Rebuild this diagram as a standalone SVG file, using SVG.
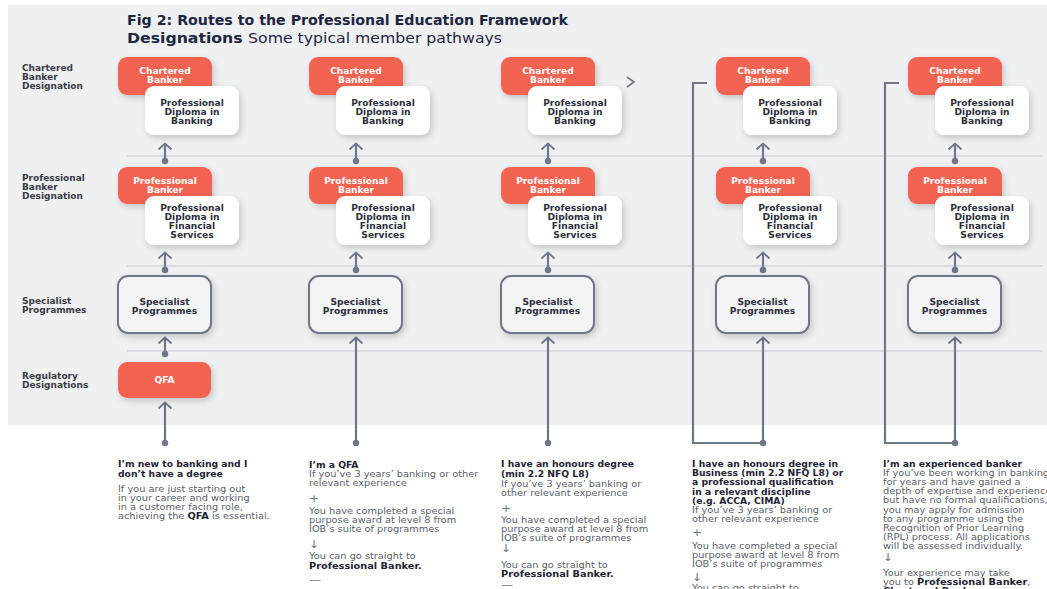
<svg xmlns="http://www.w3.org/2000/svg" width="1047" height="589" viewBox="0 0 1047 589">
<defs>
<filter id="sh" x="-20%" y="-20%" width="150%" height="160%">
<feDropShadow dx="2" dy="3" stdDeviation="3" flood-color="#000" flood-opacity="0.18"/>
</filter>
<marker id="ah" markerWidth="10" markerHeight="16" refX="7" refY="8" orient="auto" markerUnits="userSpaceOnUse" viewBox="0 0 10 16">
<path d="M1.5,1.5 L7.5,8 L1.5,14.5" fill="none" stroke="#6e7787" stroke-width="1.8"/>
</marker>
<marker id="dot" markerWidth="8" markerHeight="8" refX="4" refY="4" markerUnits="userSpaceOnUse" viewBox="0 0 8 8">
<circle cx="4" cy="4" r="3.2" fill="#6e7787"/>
</marker>
</defs>
<style>
text{font-family:"DejaVu Sans","Liberation Sans",sans-serif}
.t1{font-size:14px;font-weight:700;fill:#1d2740}
.t2{font-size:14px;font-weight:400;fill:#1d2740}
.lab{font-size:8.2px;font-weight:700;fill:#3a3d45}
.or{fill:#f26451}
.wh{fill:#ffffff}
.sp{fill:#f3f4f6;stroke:#6e7787;stroke-width:2}
.ot{font-size:8.3px;font-weight:700;fill:#ffffff;text-anchor:middle}
.wt{font-size:8.3px;font-weight:700;fill:#2b2f3a;text-anchor:middle}
.div{stroke:#d3d6dc;stroke-width:1.5}
.con{fill:none;stroke:#6e7787;stroke-width:2.2}
.h{font-size:8.4px;font-weight:700;fill:#1f2433}
.b{font-size:8.9px;font-weight:400;fill:#5a5f6a}
.bb{font-weight:700;fill:#1f2433}
.sym{font-size:11px;font-weight:400;fill:#6e7787}
</style>
<rect x="8" y="5" width="1039" height="420" fill="#eff0f2"/>
<g id="title">
<text x="127" y="25" class="t1" textLength="441" lengthAdjust="spacingAndGlyphs">Fig 2: Routes to the Professional Education Framework</text>
<text x="127" y="43" class="t1" textLength="375" lengthAdjust="spacingAndGlyphs">Designations <tspan class="t2">Some typical member pathways</tspan></text>
</g>
<g id="row-labels" transform="matrix(1.1 0 0 1 -2.2 0)">
<text class="lab"><tspan x="22" y="71">Chartered</tspan><tspan x="22" y="80">Banker</tspan><tspan x="22" y="89">Designation</tspan></text>
<text class="lab"><tspan x="22" y="181">Professional</tspan><tspan x="22" y="190">Banker</tspan><tspan x="22" y="199">Designation</tspan></text>
<text class="lab"><tspan x="22" y="304">Specialist</tspan><tspan x="22" y="313">Programmes</tspan></text>
<text class="lab"><tspan x="22" y="379">Regulatory</tspan><tspan x="22" y="388">Designations</tspan></text>
</g>
<g id="dividers">
<line class="div" x1="127" y1="156" x2="1043" y2="156"/>
<line class="div" x1="127" y1="266" x2="1043" y2="266"/>
<line class="div" x1="127" y1="351" x2="1043" y2="351"/>
</g>
<g id="connectors">
<path class="con" d="M165,161 V144" marker-start="url(#dot)" marker-end="url(#ah)"/>
<path class="con" d="M165,270 V253" marker-start="url(#dot)" marker-end="url(#ah)"/>
<path class="con" d="M165,354 V338" marker-start="url(#dot)" marker-end="url(#ah)"/>
<path class="con" d="M165,443 V403" marker-start="url(#dot)" marker-end="url(#ah)"/>
<path class="con" d="M356,161 V144" marker-start="url(#dot)" marker-end="url(#ah)"/>
<path class="con" d="M356,270 V253" marker-start="url(#dot)" marker-end="url(#ah)"/>
<path class="con" d="M356,443 V338" marker-start="url(#dot)" marker-end="url(#ah)"/>
<path class="con" d="M548,161 V144" marker-start="url(#dot)" marker-end="url(#ah)"/>
<path class="con" d="M548,270 V253" marker-start="url(#dot)" marker-end="url(#ah)"/>
<path class="con" d="M548,443 V338" marker-start="url(#dot)" marker-end="url(#ah)"/>
<path class="con" d="M763,161 V144" marker-start="url(#dot)" marker-end="url(#ah)"/>
<path class="con" d="M763,270 V253" marker-start="url(#dot)" marker-end="url(#ah)"/>
<path class="con" d="M763,443 V338" marker-start="url(#dot)" marker-end="url(#ah)"/>
<path class="con" d="M763,443 H693 V83 H707"/>
<path class="con" d="M955,161 V144" marker-start="url(#dot)" marker-end="url(#ah)"/>
<path class="con" d="M955,270 V253" marker-start="url(#dot)" marker-end="url(#ah)"/>
<path class="con" d="M955,443 V338" marker-start="url(#dot)" marker-end="url(#ah)"/>
<path class="con" d="M955,443 H885 V83 H899"/>
<path d="M627,77 L634,82 L627,87" fill="none" stroke="#6e7787" stroke-width="1.6"/>
</g>
<!-- Column 1 -->
<g id="c1-chartered"><rect class="or" x="118" y="57" width="94" height="38" rx="9" filter="url(#sh)"/><text class="ot" transform="matrix(1.1 0 0 1 -16.5 0)"><tspan x="165" y="74">Chartered</tspan><tspan x="165" y="83">Banker</tspan></text></g>
<g id="c1-pdb"><rect class="wh" x="145" y="86" width="94" height="49" rx="9" filter="url(#sh)"/><text class="wt" transform="matrix(1.1 0 0 1 -19.2 0)"><tspan x="192" y="106">Professional</tspan><tspan x="192" y="115">Diploma in</tspan><tspan x="192" y="124">Banking</tspan></text></g>
<g id="c1-pb"><rect class="or" x="118" y="167" width="94" height="37" rx="9" filter="url(#sh)"/><text class="ot" transform="matrix(1.1 0 0 1 -16.5 0)"><tspan x="165" y="184">Professional</tspan><tspan x="165" y="193">Banker</tspan></text></g>
<g id="c1-pdfs"><rect class="wh" x="145" y="196" width="94" height="49" rx="9" filter="url(#sh)"/><text class="wt" transform="matrix(1.1 0 0 1 -19.2 0)"><tspan x="192" y="211">Professional</tspan><tspan x="192" y="220">Diploma in</tspan><tspan x="192" y="229">Financial</tspan><tspan x="192" y="238">Services</tspan></text></g>
<g id="c1-spec"><rect class="sp" x="118" y="276" width="93" height="57" rx="10" filter="url(#sh)"/><text class="wt" transform="matrix(1.1 0 0 1 -16.45 0)"><tspan x="164.5" y="305">Specialist</tspan><tspan x="164.5" y="314">Programmes</tspan></text></g>
<g id="c1-qfa"><rect class="or" x="118" y="362" width="93" height="36" rx="9" filter="url(#sh)"/><text class="ot" transform="matrix(1.1 0 0 1 -16.45 0)" x="164.5" y="383">QFA</text></g>
<!-- Column 2 -->
<g id="c2-chartered"><rect class="or" x="309" y="57" width="94" height="38" rx="9" filter="url(#sh)"/><text class="ot" transform="matrix(1.1 0 0 1 -35.6 0)"><tspan x="356" y="74">Chartered</tspan><tspan x="356" y="83">Banker</tspan></text></g>
<g id="c2-pdb"><rect class="wh" x="336" y="86" width="94" height="49" rx="9" filter="url(#sh)"/><text class="wt" transform="matrix(1.1 0 0 1 -38.3 0)"><tspan x="383" y="106">Professional</tspan><tspan x="383" y="115">Diploma in</tspan><tspan x="383" y="124">Banking</tspan></text></g>
<g id="c2-pb"><rect class="or" x="309" y="167" width="94" height="37" rx="9" filter="url(#sh)"/><text class="ot" transform="matrix(1.1 0 0 1 -35.6 0)"><tspan x="356" y="184">Professional</tspan><tspan x="356" y="193">Banker</tspan></text></g>
<g id="c2-pdfs"><rect class="wh" x="336" y="196" width="94" height="49" rx="9" filter="url(#sh)"/><text class="wt" transform="matrix(1.1 0 0 1 -38.3 0)"><tspan x="383" y="211">Professional</tspan><tspan x="383" y="220">Diploma in</tspan><tspan x="383" y="229">Financial</tspan><tspan x="383" y="238">Services</tspan></text></g>
<g id="c2-spec"><rect class="sp" x="309" y="276" width="93" height="57" rx="10" filter="url(#sh)"/><text class="wt" transform="matrix(1.1 0 0 1 -35.55 0)"><tspan x="355.5" y="305">Specialist</tspan><tspan x="355.5" y="314">Programmes</tspan></text></g>
<!-- Column 3 -->
<g id="c3-chartered"><rect class="or" x="501" y="57" width="94" height="38" rx="9" filter="url(#sh)"/><text class="ot" transform="matrix(1.1 0 0 1 -54.8 0)"><tspan x="548" y="74">Chartered</tspan><tspan x="548" y="83">Banker</tspan></text></g>
<g id="c3-pdb"><rect class="wh" x="528" y="86" width="94" height="49" rx="9" filter="url(#sh)"/><text class="wt" transform="matrix(1.1 0 0 1 -57.5 0)"><tspan x="575" y="106">Professional</tspan><tspan x="575" y="115">Diploma in</tspan><tspan x="575" y="124">Banking</tspan></text></g>
<g id="c3-pb"><rect class="or" x="501" y="167" width="94" height="37" rx="9" filter="url(#sh)"/><text class="ot" transform="matrix(1.1 0 0 1 -54.8 0)"><tspan x="548" y="184">Professional</tspan><tspan x="548" y="193">Banker</tspan></text></g>
<g id="c3-pdfs"><rect class="wh" x="528" y="196" width="94" height="49" rx="9" filter="url(#sh)"/><text class="wt" transform="matrix(1.1 0 0 1 -57.5 0)"><tspan x="575" y="211">Professional</tspan><tspan x="575" y="220">Diploma in</tspan><tspan x="575" y="229">Financial</tspan><tspan x="575" y="238">Services</tspan></text></g>
<g id="c3-spec"><rect class="sp" x="501" y="276" width="93" height="57" rx="10" filter="url(#sh)"/><text class="wt" transform="matrix(1.1 0 0 1 -54.75 0)"><tspan x="547.5" y="305">Specialist</tspan><tspan x="547.5" y="314">Programmes</tspan></text></g>
<!-- Column 4 -->
<g id="c4-chartered"><rect class="or" x="716" y="57" width="94" height="38" rx="9" filter="url(#sh)"/><text class="ot" transform="matrix(1.1 0 0 1 -76.3 0)"><tspan x="763" y="74">Chartered</tspan><tspan x="763" y="83">Banker</tspan></text></g>
<g id="c4-pdb"><rect class="wh" x="743" y="86" width="94" height="49" rx="9" filter="url(#sh)"/><text class="wt" transform="matrix(1.1 0 0 1 -79 0)"><tspan x="790" y="106">Professional</tspan><tspan x="790" y="115">Diploma in</tspan><tspan x="790" y="124">Banking</tspan></text></g>
<g id="c4-pb"><rect class="or" x="716" y="167" width="94" height="37" rx="9" filter="url(#sh)"/><text class="ot" transform="matrix(1.1 0 0 1 -76.3 0)"><tspan x="763" y="184">Professional</tspan><tspan x="763" y="193">Banker</tspan></text></g>
<g id="c4-pdfs"><rect class="wh" x="743" y="196" width="94" height="49" rx="9" filter="url(#sh)"/><text class="wt" transform="matrix(1.1 0 0 1 -79 0)"><tspan x="790" y="211">Professional</tspan><tspan x="790" y="220">Diploma in</tspan><tspan x="790" y="229">Financial</tspan><tspan x="790" y="238">Services</tspan></text></g>
<g id="c4-spec"><rect class="sp" x="716" y="276" width="93" height="57" rx="10" filter="url(#sh)"/><text class="wt" transform="matrix(1.1 0 0 1 -76.25 0)"><tspan x="762.5" y="305">Specialist</tspan><tspan x="762.5" y="314">Programmes</tspan></text></g>
<!-- Column 5 -->
<g id="c5-chartered"><rect class="or" x="908" y="57" width="94" height="38" rx="9" filter="url(#sh)"/><text class="ot" transform="matrix(1.1 0 0 1 -95.5 0)"><tspan x="955" y="74">Chartered</tspan><tspan x="955" y="83">Banker</tspan></text></g>
<g id="c5-pdb"><rect class="wh" x="935" y="86" width="94" height="49" rx="9" filter="url(#sh)"/><text class="wt" transform="matrix(1.1 0 0 1 -98.2 0)"><tspan x="982" y="106">Professional</tspan><tspan x="982" y="115">Diploma in</tspan><tspan x="982" y="124">Banking</tspan></text></g>
<g id="c5-pb"><rect class="or" x="908" y="167" width="94" height="37" rx="9" filter="url(#sh)"/><text class="ot" transform="matrix(1.1 0 0 1 -95.5 0)"><tspan x="955" y="184">Professional</tspan><tspan x="955" y="193">Banker</tspan></text></g>
<g id="c5-pdfs"><rect class="wh" x="935" y="196" width="94" height="49" rx="9" filter="url(#sh)"/><text class="wt" transform="matrix(1.1 0 0 1 -98.2 0)"><tspan x="982" y="211">Professional</tspan><tspan x="982" y="220">Diploma in</tspan><tspan x="982" y="229">Financial</tspan><tspan x="982" y="238">Services</tspan></text></g>
<g id="c5-spec"><rect class="sp" x="908" y="276" width="93" height="57" rx="10" filter="url(#sh)"/><text class="wt" transform="matrix(1.1 0 0 1 -95.45 0)"><tspan x="954.5" y="305">Specialist</tspan><tspan x="954.5" y="314">Programmes</tspan></text></g>
<!-- Bottom descriptions -->
<g id="desc1" transform="matrix(1.1 0 0 1 -11.8 0)">
<text class="h"><tspan x="118" y="467">I’m new to banking and I</tspan><tspan x="118" y="477">don’t have a degree</tspan></text>
<text class="b"><tspan x="118" y="492">If you are just starting out</tspan><tspan x="118" y="501">in your career and working</tspan><tspan x="118" y="510">in a customer facing role,</tspan><tspan x="118" y="519">achieving the <tspan class="bb">QFA</tspan> is essential.</tspan></text>
</g>
<g id="desc2" transform="matrix(1.1 0 0 1 -30.9 0)">
<text class="h" x="309" y="468">I’m a QFA</text>
<text class="b"><tspan x="309" y="477">If you’ve 3 years’ banking or other</tspan><tspan x="309" y="486">relevant experience</tspan></text>
<text class="sym" x="309" y="502">+</text>
<text class="b"><tspan x="309" y="514">You have completed a special</tspan><tspan x="309" y="523">purpose award at level 8 from</tspan><tspan x="309" y="532">IOB’s suite of programmes</tspan></text>
<text class="sym" x="309" y="548">↓</text>
<text class="b"><tspan x="309" y="559">You can go straight to</tspan><tspan x="309" y="569" class="bb">Professional Banker.</tspan></text>
<text class="sym" x="309" y="583">—</text>
</g>
<g id="desc3" transform="matrix(1.1 0 0 1 -50.1 0)">
<text class="h"><tspan x="501" y="467">I have an honours degree</tspan><tspan x="501" y="477">(min 2.2 NFQ L8)</tspan></text>
<text class="b"><tspan x="501" y="487">If you’ve 3 years’ banking or</tspan><tspan x="501" y="496">other relevant experience</tspan></text>
<text class="sym" x="501" y="512">+</text>
<text class="b"><tspan x="501" y="523">You have completed a special</tspan><tspan x="501" y="532">purpose award at level 8 from</tspan><tspan x="501" y="541">IOB’s suite of programmes</tspan></text>
<text class="sym" x="501" y="552">↓</text>
<text class="b"><tspan x="501" y="568">You can go straight to</tspan><tspan x="501" y="577" class="bb">Professional Banker.</tspan></text>
<text class="sym" x="501" y="588">—</text>
</g>
<g id="desc4" transform="matrix(1.1 0 0 1 -69.2 0)">
<text class="h"><tspan x="692" y="467">I have an honours degree in</tspan><tspan x="692" y="476">Business (min 2.2 NFQ L8) or</tspan><tspan x="692" y="485">a professional qualification</tspan><tspan x="692" y="495">in a relevant discipline</tspan><tspan x="692" y="504">(e.g. ACCA, CIMA)</tspan></text>
<text class="b"><tspan x="692" y="513">If you’ve 3 years’ banking or</tspan><tspan x="692" y="522">other relevant experience</tspan></text>
<text class="sym" x="692" y="536">+</text>
<text class="b"><tspan x="692" y="549">You have completed a special</tspan><tspan x="692" y="558">purpose award at level 8 from</tspan><tspan x="692" y="567">IOB’s suite of programmes</tspan></text>
<text class="sym" x="692" y="581">↓</text>
<text class="b" x="692" y="591">You can go straight to</text>
</g>
<g id="desc5" transform="matrix(1.1 0 0 1 -88.3 0)">
<text class="h" x="883" y="467">I’m an experienced banker</text>
<text class="b"><tspan x="883" y="476">If you’ve been working in banking</tspan><tspan x="883" y="485">for years and have gained a</tspan><tspan x="883" y="494">depth of expertise and experience</tspan><tspan x="883" y="503">but have no formal qualifications,</tspan><tspan x="883" y="513">you may apply for admission</tspan><tspan x="883" y="522">to any programme using the</tspan><tspan x="883" y="531">Recognition of Prior Learning</tspan><tspan x="883" y="540">(RPL) process. All applications</tspan><tspan x="883" y="549">will be assessed individually.</tspan></text>
<text class="sym" x="883" y="561">↓</text>
<text class="b"><tspan x="883" y="576">Your experience may take</tspan><tspan x="883" y="585">you to <tspan class="bb">Professional Banker</tspan>,</tspan><tspan x="883" y="594"><tspan class="bb">Chartered Banker</tspan> or a</tspan></text>
</g>
</svg>
